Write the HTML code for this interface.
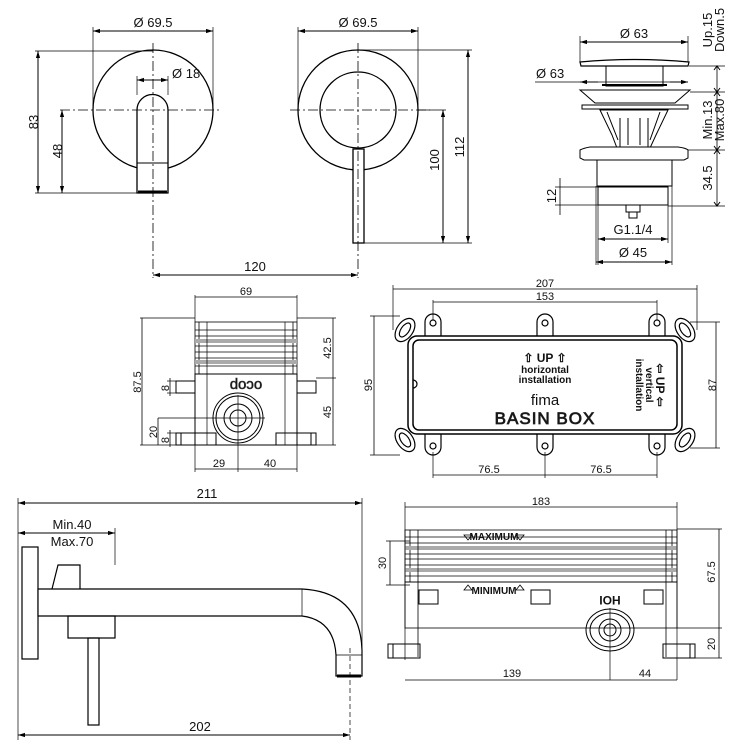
<!DOCTYPE html>
<html><head><meta charset="utf-8"><style>
html,body{margin:0;padding:0;background:#fff}
svg{display:block}
text{font-family:"Liberation Sans",Arial,sans-serif;fill:#111}
</style></head><body>
<svg width="750" height="750" viewBox="0 0 750 750" xmlns="http://www.w3.org/2000/svg">
<defs>
<marker id="a" viewBox="0 0 10 10" refX="10" refY="5" markerWidth="7" markerHeight="7" orient="auto-start-reverse"><path d="M0,2 L10,5 L0,8 z" fill="#000"/></marker>
</defs>
<g fill="none" stroke="#000" stroke-width="1">
<!-- Panel 1 -->
<circle cx="153" cy="110" r="60" stroke-width="1.3"/>
<path d="M137,193 V110 A15.5,15.5 0 0 1 168,110 V193 Z" fill="#fff" stroke-width="1.3"/>
<line x1="137" y1="163" x2="168" y2="163"/>
<line x1="138" y1="192" x2="167" y2="192" stroke-width="3"/>
<line x1="153" y1="43" x2="153" y2="278" stroke-dasharray="10,3,2,3" stroke-width="0.8"/>
<line x1="60" y1="110" x2="220" y2="110" stroke-dasharray="10,3,2,3" stroke-width="0.8"/>
<line x1="93" y1="27" x2="93" y2="110" stroke-width="0.7"/>
<line x1="213" y1="27" x2="213" y2="110" stroke-width="0.7"/>
<line x1="93" y1="31" x2="213" y2="31" marker-start="url(#a)" marker-end="url(#a)"/>
<line x1="137" y1="76" x2="137" y2="95" stroke-width="0.7"/>
<line x1="168" y1="76" x2="168" y2="95" stroke-width="0.7"/>
<line x1="137" y1="80" x2="168" y2="80" marker-start="url(#a)" marker-end="url(#a)"/>
<line x1="35" y1="51" x2="153" y2="51" stroke-width="0.7"/>
<line x1="35" y1="193" x2="140" y2="193" stroke-width="0.7"/>
<line x1="38" y1="51" x2="38" y2="193" marker-start="url(#a)" marker-end="url(#a)"/>
<line x1="62" y1="110" x2="62" y2="193" marker-start="url(#a)" marker-end="url(#a)"/>
<line x1="153" y1="275" x2="358" y2="275" marker-start="url(#a)" marker-end="url(#a)"/>
<!-- Panel 2 -->
<circle cx="358" cy="110" r="60" stroke-width="1.3"/>
<circle cx="358" cy="110" r="38" stroke-width="1.3"/>
<rect x="353" y="149" width="11" height="94" fill="#fff" stroke-width="1.3"/>
<line x1="358" y1="43" x2="358" y2="278" stroke-dasharray="10,3,2,3" stroke-width="0.8"/>
<line x1="290" y1="110" x2="430" y2="110" stroke-dasharray="10,3,2,3" stroke-width="0.8"/>
<line x1="298" y1="27" x2="298" y2="110" stroke-width="0.7"/>
<line x1="418" y1="27" x2="418" y2="110" stroke-width="0.7"/>
<line x1="298" y1="31" x2="418" y2="31" marker-start="url(#a)" marker-end="url(#a)"/>
<line x1="358" y1="50" x2="472" y2="50" stroke-width="0.7"/>
<line x1="364" y1="243" x2="472" y2="243" stroke-width="0.7"/>
<line x1="418" y1="110" x2="446" y2="110" stroke-width="0.7"/>
<line x1="443" y1="110" x2="443" y2="243" marker-start="url(#a)" marker-end="url(#a)"/>
<line x1="468" y1="50" x2="468" y2="243" marker-start="url(#a)" marker-end="url(#a)"/>
<!-- Panel 3 drain -->
<path d="M580,62 Q634,57 689,62 L688,66 H581 Z" fill="#fff" stroke-width="1.2"/>
<rect x="606" y="66" width="57" height="20"/>
<line x1="602" y1="85" x2="667" y2="85" stroke-width="2"/>
<path d="M580,90 H690 L675,103 H595 Z"/>
<rect x="582" y="105" width="106" height="4"/>
<path d="M600,110 L612,135 L617,148 H650 L656,135 L668,110 Z"/>
<path d="M607,112 L618,140 M660,112 L650,140 M620,118 V148 M648,118 V148 M628,118 V145 M640,118 V145"/>
<path d="M580,150 Q584,148 590,147 H678 Q686,148 688,150 V158 L684,160 H584 L580,158 Z" fill="#fff"/>
<rect x="597" y="160" width="75" height="26"/>
<rect x="598" y="187" width="70" height="18"/>
<rect x="626" y="205" width="14" height="7"/>
<rect x="629" y="212" width="8" height="6"/>
<line x1="580" y1="36" x2="580" y2="62" stroke-width="0.7"/>
<line x1="688" y1="36" x2="688" y2="62" stroke-width="0.7"/>
<line x1="580" y1="42" x2="688" y2="42" marker-start="url(#a)" marker-end="url(#a)"/>
<line x1="535" y1="82" x2="688" y2="82" stroke-width="0.8"/>
<line x1="580" y1="82" x2="598" y2="82" marker-start="url(#a)"/>
<line x1="670" y1="82" x2="688" y2="82" marker-end="url(#a)"/>
<line x1="689" y1="66" x2="725" y2="66" stroke-width="0.7"/>
<line x1="690" y1="92" x2="725" y2="92" stroke-width="0.7"/>
<line x1="688" y1="150" x2="725" y2="150" stroke-width="0.7"/>
<line x1="668" y1="206" x2="725" y2="206" stroke-width="0.7"/>
<line x1="717" y1="66" x2="717" y2="206" stroke-width="0.8"/>
<path d="M714,70 L717,66 L720,70 M714,88 L717,92 L720,88 M714,96 L717,92 L720,96 M714,146 L717,150 L720,146 M714,154 L717,150 L720,154 M714,202 L717,206 L720,202" fill="none"/>
<line x1="555" y1="187" x2="598" y2="187" stroke-width="0.7"/>
<line x1="555" y1="205" x2="598" y2="205" stroke-width="0.7"/>
<line x1="560" y1="178" x2="560" y2="215" stroke-width="0.8"/>
<line x1="598" y1="205" x2="598" y2="265" stroke-width="0.7"/>
<line x1="668" y1="205" x2="668" y2="243" stroke-width="0.7"/>
<line x1="596" y1="186" x2="596" y2="265" stroke-width="0.7"/>
<line x1="672" y1="186" x2="672" y2="265" stroke-width="0.7"/>
<line x1="598" y1="239" x2="668" y2="239" marker-start="url(#a)" marker-end="url(#a)"/>
<line x1="596" y1="262" x2="672" y2="262" marker-start="url(#a)" marker-end="url(#a)"/>
<!-- Panel 4 -->
<rect x="195" y="322" width="102" height="52" stroke-width="0.8"/>
<g stroke-width="0.8">
<line x1="199" y1="322" x2="199" y2="374"/><line x1="293" y1="322" x2="293" y2="374"/>
<line x1="195" y1="330" x2="297" y2="330"/><line x1="195" y1="336" x2="297" y2="336"/>
<line x1="195" y1="346" x2="297" y2="346"/><line x1="195" y1="352" x2="297" y2="352"/>
<line x1="195" y1="358" x2="297" y2="358"/><line x1="195" y1="366" x2="297" y2="366"/>
</g>
<rect x="195" y="339" width="102" height="4" fill="#aaa" stroke="none"/>
<rect x="195" y="360" width="102" height="4" fill="#aaa" stroke="none"/>
<rect x="195" y="374" width="102" height="71"/>
<line x1="207" y1="322" x2="207" y2="445" stroke-width="0.7"/>
<line x1="285" y1="322" x2="285" y2="445" stroke-width="0.7"/>
<rect x="176" y="381" width="19" height="12"/>
<rect x="297" y="381" width="19" height="12"/>
<rect x="176" y="433" width="40" height="12"/>
<rect x="276" y="433" width="40" height="12"/>
<line x1="181" y1="433" x2="181" y2="445"/><line x1="311" y1="433" x2="311" y2="445"/>
<circle cx="238" cy="418" r="25"/><circle cx="238" cy="418" r="22"/>
<circle cx="238" cy="418" r="14"/><circle cx="238" cy="418" r="8"/>
<line x1="238" y1="395" x2="238" y2="472" stroke-width="0.7"/>
<line x1="158" y1="418" x2="265" y2="418" stroke-width="0.7"/>
<line x1="195" y1="295" x2="195" y2="322" stroke-width="0.7"/>
<line x1="297" y1="295" x2="297" y2="322" stroke-width="0.7"/>
<line x1="195" y1="297" x2="297" y2="297" stroke-width="0.8"/>
<line x1="140" y1="318" x2="195" y2="318" stroke-width="0.7"/>
<line x1="140" y1="445" x2="195" y2="445" stroke-width="0.7"/>
<line x1="142" y1="318" x2="142" y2="445" stroke-width="0.8"/>
<line x1="297" y1="318" x2="336" y2="318" stroke-width="0.7"/>
<line x1="316" y1="378" x2="336" y2="378" stroke-width="0.7"/>
<line x1="297" y1="445" x2="336" y2="445" stroke-width="0.7"/>
<line x1="333" y1="318" x2="333" y2="445" stroke-width="0.8"/>
<line x1="167" y1="381" x2="176" y2="381" stroke-width="0.7"/>
<line x1="167" y1="393" x2="176" y2="393" stroke-width="0.7"/>
<line x1="170" y1="378" x2="170" y2="396" stroke-width="0.8"/>
<line x1="167" y1="433" x2="176" y2="433" stroke-width="0.7"/>
<line x1="170" y1="430" x2="170" y2="447" stroke-width="0.8"/>
<line x1="158" y1="418" x2="158" y2="445" stroke-width="0.8"/>
<line x1="195" y1="445" x2="195" y2="472" stroke-width="0.7"/>
<line x1="297" y1="445" x2="297" y2="472" stroke-width="0.7"/>
<line x1="195" y1="469" x2="297" y2="469" stroke-width="0.8"/>
<!-- Panel 5 basin box -->
<g stroke-width="1.2">
<path d="M425,337 V322 A8,8 0 0 1 441,322 V337"/><path d="M537,337 V322 A8,8 0 0 1 553,322 V337"/><path d="M649,337 V322 A8,8 0 0 1 665,322 V337"/>
<path d="M425,432 V447 A8,8 0 0 0 441,447 V432"/><path d="M537,432 V447 A8,8 0 0 0 553,447 V432"/><path d="M649,432 V447 A8,8 0 0 0 665,447 V432"/>
<circle cx="433" cy="323" r="3"/><circle cx="545" cy="323" r="3"/><circle cx="657" cy="323" r="3"/>
<circle cx="433" cy="446" r="3"/><circle cx="545" cy="446" r="3"/><circle cx="657" cy="446" r="3"/>
<ellipse cx="405" cy="330" rx="8" ry="13" transform="rotate(35 405 330)"/>
<ellipse cx="405" cy="330" rx="4" ry="8" transform="rotate(35 405 330)"/>
<ellipse cx="685" cy="330" rx="8" ry="13" transform="rotate(-35 685 330)"/>
<ellipse cx="685" cy="330" rx="4" ry="8" transform="rotate(-35 685 330)"/>
<ellipse cx="405" cy="440" rx="8" ry="13" transform="rotate(-35 405 440)"/>
<ellipse cx="405" cy="440" rx="4" ry="8" transform="rotate(-35 405 440)"/>
<ellipse cx="685" cy="440" rx="8" ry="13" transform="rotate(35 685 440)"/>
<ellipse cx="685" cy="440" rx="4" ry="8" transform="rotate(35 685 440)"/>
<rect x="408" y="336" width="274" height="98" rx="9" fill="#fff" stroke-width="1.5"/>
<rect x="413" y="340" width="264" height="90" rx="6" stroke-width="1.5"/>
<path d="M413,380 A4,4 0 0 1 413,388"/>
</g>
<line x1="393" y1="285" x2="393" y2="330" stroke-width="0.7"/>
<line x1="697" y1="285" x2="697" y2="330" stroke-width="0.7"/>
<line x1="393" y1="289" x2="697" y2="289" stroke-width="0.8"/>
<line x1="433" y1="300" x2="433" y2="320" stroke-width="0.7"/>
<line x1="657" y1="300" x2="657" y2="320" stroke-width="0.7"/>
<line x1="433" y1="302" x2="657" y2="302" stroke-width="0.8"/>
<line x1="370" y1="316" x2="400" y2="316" stroke-width="0.7"/>
<line x1="370" y1="455" x2="400" y2="455" stroke-width="0.7"/>
<line x1="374" y1="316" x2="374" y2="455" stroke-width="0.8"/>
<line x1="690" y1="322" x2="720" y2="322" stroke-width="0.7"/>
<line x1="690" y1="448" x2="720" y2="448" stroke-width="0.7"/>
<line x1="716" y1="322" x2="716" y2="448" stroke-width="0.8"/>
<line x1="433" y1="452" x2="433" y2="478" stroke-width="0.7"/>
<line x1="545" y1="452" x2="545" y2="478" stroke-width="0.7"/>
<line x1="657" y1="452" x2="657" y2="478" stroke-width="0.7"/>
<line x1="433" y1="475" x2="657" y2="475" stroke-width="0.8"/>
<!-- Panel 6 spout -->
<rect x="22" y="547" width="16" height="112" stroke-width="1.2"/>
<path d="M52,589 L58,565 H80 V589" stroke-width="1.2"/>
<path d="M38,589 H302 Q360,592 362,650 V676 H336 V655 Q334,620 302,616 H38 Z" fill="#fff" stroke-width="1.2"/>
<line x1="302" y1="589" x2="302" y2="616" stroke-width="0.7"/>
<line x1="336" y1="655" x2="362" y2="655" stroke-width="0.7"/>
<line x1="337" y1="676" x2="361" y2="676" stroke-width="3"/>
<rect x="68" y="616" width="47" height="22" stroke-width="1.2"/>
<rect x="88" y="638" width="11" height="87" stroke-width="1.2"/>
<line x1="350" y1="648" x2="350" y2="740" stroke-dasharray="5,3" stroke-width="0.7"/>
<line x1="18" y1="498" x2="18" y2="740" stroke-width="0.7"/>
<line x1="362" y1="498" x2="362" y2="650" stroke-width="0.7"/>
<line x1="18" y1="503" x2="362" y2="503" marker-start="url(#a)" marker-end="url(#a)"/>
<line x1="115" y1="528" x2="115" y2="565" stroke-width="0.7"/>
<line x1="18" y1="533" x2="115" y2="533" marker-start="url(#a)" marker-end="url(#a)"/>
<line x1="18" y1="735" x2="350" y2="735" marker-start="url(#a)" marker-end="url(#a)"/>
<!-- Panel 7 -->
<rect x="405" y="530" width="272" height="52" stroke-width="0.8"/>
<g stroke-width="0.8">
<line x1="410" y1="530" x2="410" y2="582"/><line x1="672" y1="530" x2="672" y2="582"/>
<line x1="405" y1="537" x2="677" y2="537"/><line x1="405" y1="543" x2="677" y2="543"/>
<line x1="405" y1="554" x2="677" y2="554"/><line x1="405" y1="559" x2="677" y2="559"/>
<line x1="405" y1="565" x2="677" y2="565"/><line x1="405" y1="576" x2="677" y2="576"/>
</g>
<rect x="405" y="546" width="272" height="4" fill="#aaa" stroke="none"/>
<rect x="405" y="568" width="272" height="4" fill="#aaa" stroke="none"/>
<rect x="405" y="582" width="272" height="46" stroke-width="0.8"/>
<line x1="418" y1="530" x2="418" y2="657" stroke-width="0.8"/>
<line x1="666" y1="530" x2="666" y2="657" stroke-width="0.8"/>
<rect x="419" y="590" width="19" height="14"/>
<rect x="531" y="590" width="19" height="14"/>
<rect x="644" y="590" width="19" height="14"/>
<rect x="388" y="644" width="32" height="14"/>
<rect x="663" y="644" width="32" height="14"/>
<line x1="393" y1="644" x2="393" y2="658"/><line x1="690" y1="644" x2="690" y2="658"/>
<ellipse cx="610" cy="630" rx="24" ry="21"/><ellipse cx="610" cy="630" rx="20" ry="17"/>
<circle cx="610" cy="630" r="11"/><circle cx="610" cy="630" r="6"/>
<line x1="610" y1="608" x2="610" y2="680" stroke-width="0.7"/>
<path d="M464,535 h8 l-4,5 z M516,535 h8 l-4,5 z M464,590 h8 l-4,-5 z M516,590 h8 l-4,-5 z" stroke-width="0.8"/>
<line x1="405" y1="502" x2="405" y2="660" stroke-width="0.7"/>
<line x1="677" y1="502" x2="677" y2="680" stroke-width="0.7"/>
<line x1="405" y1="507" x2="677" y2="507" stroke-width="0.8"/>
<line x1="386" y1="541" x2="410" y2="541" stroke-width="0.7"/>
<line x1="386" y1="585" x2="410" y2="585" stroke-width="0.7"/>
<line x1="390" y1="541" x2="390" y2="585" stroke-width="0.8"/>
<line x1="677" y1="529" x2="722" y2="529" stroke-width="0.7"/>
<line x1="677" y1="628" x2="722" y2="628" stroke-width="0.7"/>
<line x1="695" y1="658" x2="722" y2="658" stroke-width="0.7"/>
<line x1="719" y1="529" x2="719" y2="658" stroke-width="0.8"/>
<line x1="405" y1="680" x2="677" y2="680" stroke-width="0.8"/>
</g>
<!-- Texts -->
<g font-size="13">
<text x="153" y="27" text-anchor="middle">Ø 69.5</text>
<text x="172" y="78">Ø 18</text>
<text x="358" y="27" text-anchor="middle">Ø 69.5</text>
<text x="255" y="271" text-anchor="middle">120</text>
<text transform="translate(38,122) rotate(-90)" text-anchor="middle">83</text>
<text transform="translate(62,151) rotate(-90)" text-anchor="middle">48</text>
<text transform="translate(439,160) rotate(-90)" text-anchor="middle">100</text>
<text transform="translate(464,147) rotate(-90)" text-anchor="middle">112</text>
<text x="634" y="38" text-anchor="middle">Ø 63</text>
<text x="536" y="78">Ø 63</text>
<text x="633" y="234" text-anchor="middle">G1.1/4</text>
<text x="633" y="257" text-anchor="middle">Ø 45</text>
<text transform="translate(712,30) rotate(-90)" text-anchor="middle">Up.15</text>
<text transform="translate(724,30) rotate(-90)" text-anchor="middle">Down.5</text>
<text transform="translate(712,120) rotate(-90)" text-anchor="middle">Min.13</text>
<text transform="translate(724,120) rotate(-90)" text-anchor="middle">Max.80</text>
<text transform="translate(712,178) rotate(-90)" text-anchor="middle">34.5</text>
<text transform="translate(556,196) rotate(-90)" text-anchor="middle">12</text>
<text x="207" y="498" text-anchor="middle">211</text>
<text x="72" y="529" text-anchor="middle">Min.40</text>
<text x="72" y="546" text-anchor="middle">Max.70</text>
<text x="200" y="731" text-anchor="middle">202</text>
</g>
<g font-size="11">
<text x="246" y="295" text-anchor="middle">69</text>
<text transform="translate(141,382) rotate(-90)" text-anchor="middle">87.5</text>
<text transform="translate(331,348) rotate(-90)" text-anchor="middle">42.5</text>
<text transform="translate(331,412) rotate(-90)" text-anchor="middle">45</text>
<text transform="translate(169,388) rotate(-90)" text-anchor="middle">8</text>
<text transform="translate(169,440) rotate(-90)" text-anchor="middle">8</text>
<text transform="translate(157,432) rotate(-90)" text-anchor="middle">20</text>
<text x="219" y="467" text-anchor="middle">29</text>
<text x="270" y="467" text-anchor="middle">40</text>
<text x="246" y="389" text-anchor="middle" transform="rotate(180 246 385)" font-size="15" fill="none" stroke="#333" stroke-width="0.6">ocop</text>
<text x="545" y="287" text-anchor="middle">207</text>
<text x="545" y="300" text-anchor="middle">153</text>
<text transform="translate(372,385) rotate(-90)" text-anchor="middle">95</text>
<text transform="translate(716,385) rotate(-90)" text-anchor="middle">87</text>
<text x="489" y="473" text-anchor="middle">76.5</text>
<text x="601" y="473" text-anchor="middle">76.5</text>
<text x="541" y="505" text-anchor="middle">183</text>
<text transform="translate(386,563) rotate(-90)" text-anchor="middle">30</text>
<text transform="translate(715,572) rotate(-90)" text-anchor="middle">67.5</text>
<text transform="translate(715,644) rotate(-90)" text-anchor="middle">20</text>
<text x="512" y="677" text-anchor="middle">139</text>
<text x="645" y="677" text-anchor="middle">44</text>
</g>
<g font-weight="bold" font-size="10">
<text x="494" y="540" text-anchor="middle">MAXIMUM</text>
<text x="494" y="594" text-anchor="middle">MINIMUM</text>
<text x="545" y="362" text-anchor="middle" font-size="12">⇧ UP ⇧</text>
<text x="545" y="373" text-anchor="middle">horizontal</text>
<text x="545" y="383" text-anchor="middle">installation</text>
<text transform="translate(656,385) rotate(90)" text-anchor="middle" font-size="12">⇦ UP ⇦</text>
<text transform="translate(646,385) rotate(90)" text-anchor="middle">vertical</text>
<text transform="translate(636,385) rotate(90)" text-anchor="middle">installation</text>
</g>
<text x="545" y="405" text-anchor="middle" font-size="15">fima</text>
<text x="545" y="424" text-anchor="middle" font-size="17" fill="#fff" stroke="#222" stroke-width="0.8" letter-spacing="1">BASIN  BOX</text>
<text x="610" y="604" text-anchor="middle" font-size="12" font-weight="bold" transform="rotate(180 610 600)">HOI</text>
</svg>
</body></html>
